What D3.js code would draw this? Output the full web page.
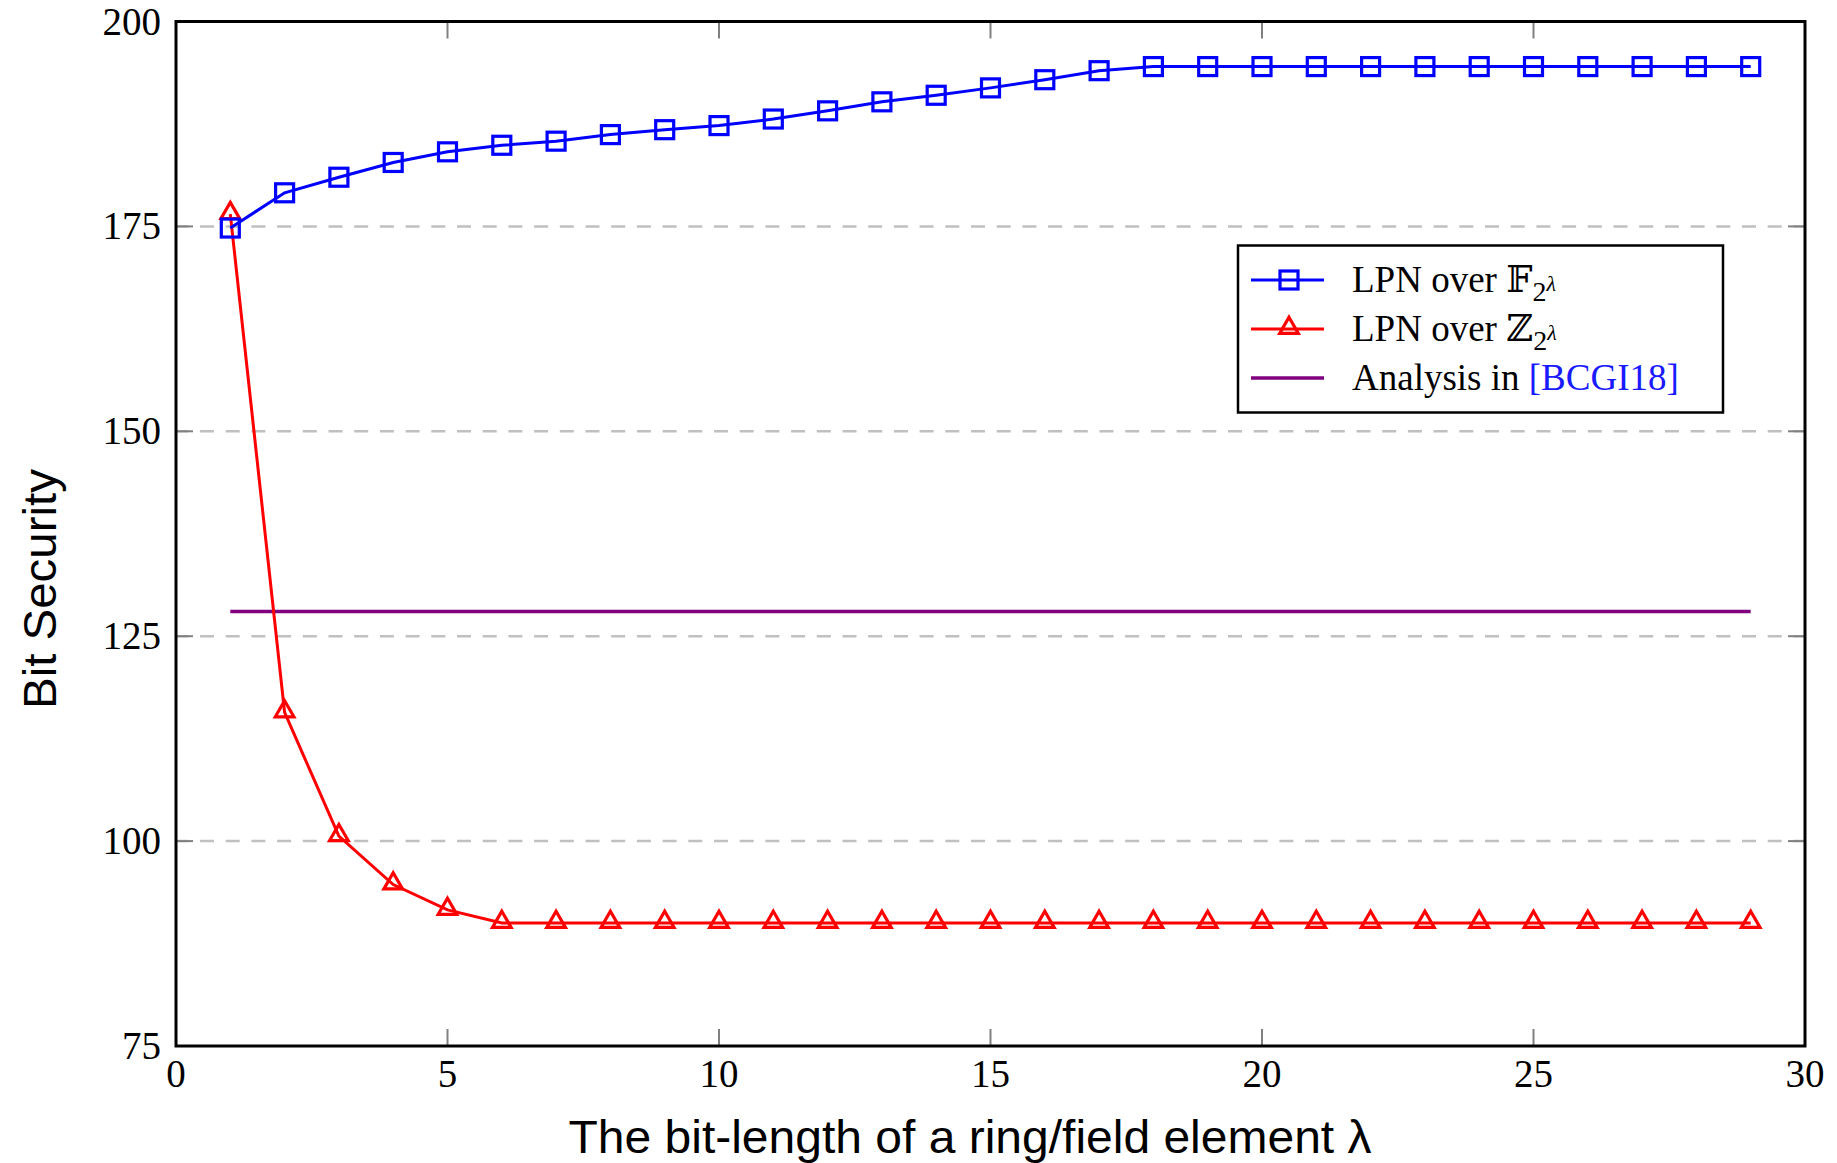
<!DOCTYPE html>
<html>
<head>
<meta charset="utf-8">
<script src="https://cdn.jsdelivr.net/npm/d3@7"></script>
<style>
  body { margin: 0; background: #fff; }
  svg { display: block; }
</style>
</head>
<body>
<svg></svg>
<script>
// values
var lambdaVals = [1, 2, 3, 4, 5, 6, 7, 8, 9, 10, 11, 12, 13, 14, 15, 16, 17, 18, 19, 20, 21, 22, 23, 24, 25, 26, 27, 28, 29];
var lpnField = [174.8, 179.1, 181.0, 182.8, 184.1, 184.9, 185.4, 186.2, 186.8, 187.3, 188.1, 189.1, 190.2, 191.0, 191.9, 192.9, 194.0,
                194.5, 194.5, 194.5, 194.5, 194.5, 194.5, 194.5, 194.5, 194.5, 194.5, 194.5, 194.5];
var lpnRing = [176.5, 115.7, 100.6, 94.7, 91.6, 90, 90, 90, 90, 90, 90, 90, 90, 90, 90, 90, 90,
               90, 90, 90, 90, 90, 90, 90, 90, 90, 90, 90, 90];
var bcgiX = [1, 29];
var bcgiY = [128, 128];

var xTicks = [0, 5, 10, 15, 20, 25, 30];
var yTicks = [75, 100, 125, 150, 175, 200];
var yGrid = [100, 125, 150, 175];

var width = 1837, height = 1163;
var margin = { left: 176, right: 32, top: 21.5, bottom: 117 };
var serif = "'Liberation Serif', 'DejaVu Serif', serif";
var sans = "'Liberation Sans', Arial, sans-serif";

var svg = d3.select("svg")
            .attr("width", width)
            .attr("height", height);

var xscale = d3.scaleLinear()
               .domain([0, 30])
               .range([margin.left, width - margin.right]);

var yscale = d3.scaleLinear()
               .domain([75, 200])
               .range([height - margin.bottom, margin.top]);

var x0 = xscale(0), x1 = xscale(30), y0 = yscale(75), y1 = yscale(200);

// dashed grid
svg.append("g")
   .selectAll("line")
   .data(yGrid)
   .enter()
   .append("line")
   .attr("x1", x0).attr("x2", x1)
   .attr("y1", function(d) { return yscale(d); })
   .attr("y2", function(d) { return yscale(d); })
   .attr("stroke", "#c0c0c0")
   .attr("stroke-width", 2.5)
   .attr("stroke-dasharray", "14,11.7")
   .attr("stroke-dashoffset", -24);

// inner tick marks
var tickLen = 17;
var ticks = svg.append("g").attr("stroke", "#808080").attr("stroke-width", 2);
yTicks.forEach(function(v) {
  ticks.append("line").attr("x1", x0).attr("x2", x0 + tickLen).attr("y1", yscale(v)).attr("y2", yscale(v));
  ticks.append("line").attr("x1", x1).attr("x2", x1 - tickLen).attr("y1", yscale(v)).attr("y2", yscale(v));
});
xTicks.forEach(function(v) {
  ticks.append("line").attr("x1", xscale(v)).attr("x2", xscale(v)).attr("y1", y0).attr("y2", y0 - tickLen);
  ticks.append("line").attr("x1", xscale(v)).attr("x2", xscale(v)).attr("y1", y1).attr("y2", y1 + tickLen);
});

// tick labels
svg.append("g")
   .attr("font-family", serif)
   .attr("font-size", 39)
   .attr("text-anchor", "end")
   .selectAll("text")
   .data(yTicks)
   .enter()
   .append("text")
   .attr("x", x0 - 15)
   .attr("y", function(d) { return yscale(d) + 13; })
   .text(function(d) { return d; });

svg.append("g")
   .attr("font-family", serif)
   .attr("font-size", 39)
   .attr("text-anchor", "middle")
   .selectAll("text")
   .data(xTicks)
   .enter()
   .append("text")
   .attr("x", function(d) { return xscale(d); })
   .attr("y", y0 + 41)
   .text(function(d) { return d; });

// series
var line = d3.line()
             .x(function(d) { return xscale(d[0]); })
             .y(function(d) { return yscale(d[1]); });

svg.append("path")
   .datum(d3.zip(bcgiX, bcgiY))
   .attr("d", line)
   .attr("fill", "none")
   .attr("stroke", "#800080")
   .attr("stroke-width", 3.5);

svg.append("path")
   .datum(d3.zip(lambdaVals, lpnRing))
   .attr("d", line)
   .attr("fill", "none")
   .attr("stroke", "#ff0000")
   .attr("stroke-width", 3);

svg.append("g")
   .selectAll("path")
   .data(d3.zip(lambdaVals, lpnRing))
   .enter()
   .append("path")
   .attr("transform", function(d) { return "translate(" + xscale(d[0]) + "," + (yscale(d[1]) - 1) + ")"; })
   .attr("d", d3.symbol(d3.symbolTriangle, 150))
   .attr("fill", "none")
   .attr("stroke", "#ff0000")
   .attr("stroke-width", 3.2);

svg.append("path")
   .datum(d3.zip(lambdaVals, lpnField))
   .attr("d", line)
   .attr("fill", "none")
   .attr("stroke", "#0000ff")
   .attr("stroke-width", 3);

svg.append("g")
   .selectAll("rect")
   .data(d3.zip(lambdaVals, lpnField))
   .enter()
   .append("rect")
   .attr("x", function(d) { return xscale(d[0]) - 9; })
   .attr("y", function(d) { return yscale(d[1]) - 9; })
   .attr("width", 18)
   .attr("height", 18)
   .attr("fill", "none")
   .attr("stroke", "#0000ff")
   .attr("stroke-width", 3.2);

// frame
svg.append("rect")
   .attr("x", x0).attr("y", y1)
   .attr("width", x1 - x0).attr("height", y0 - y1)
   .attr("fill", "none")
   .attr("stroke", "#000")
   .attr("stroke-width", 3);

// axis titles
svg.append("text")
   .attr("x", 970)
   .attr("y", 1153)
   .attr("text-anchor", "middle")
   .attr("font-family", sans)
   .attr("font-size", 47)
   .attr("textLength", 803)
   .attr("lengthAdjust", "spacingAndGlyphs")
   .text("The bit-length of a ring/field element λ");

svg.append("text")
   .attr("transform", "translate(56,589) rotate(-90)")
   .attr("text-anchor", "middle")
   .attr("font-family", sans)
   .attr("font-size", 47)
   .attr("textLength", 240)
   .attr("lengthAdjust", "spacingAndGlyphs")
   .text("Bit Security");

// legend
var leg = svg.append("g");
leg.append("rect")
   .attr("x", 1238).attr("y", 245.5)
   .attr("width", 485).attr("height", 167)
   .attr("fill", "#fff")
   .attr("stroke", "#000")
   .attr("stroke-width", 2.5);

var legRows = [
  { y: 280, color: "#0000ff", mark: "square", base: "LPN over \u{1D53D}" },
  { y: 329, color: "#ff0000", mark: "triangle", base: "LPN over \u2124" },
  { y: 378, color: "#800080", mark: "none", base: "Analysis in " }
];

legRows.forEach(function(r) {
  leg.append("line")
     .attr("x1", 1251).attr("x2", 1324)
     .attr("y1", r.y).attr("y2", r.y)
     .attr("stroke", r.color)
     .attr("stroke-width", r.mark === "none" ? 3.5 : 3);
  if (r.mark === "square") {
    leg.append("rect")
       .attr("x", 1289 - 9).attr("y", r.y - 9)
       .attr("width", 18).attr("height", 18)
       .attr("fill", "none").attr("stroke", r.color).attr("stroke-width", 3.2);
  } else if (r.mark === "triangle") {
    leg.append("path")
       .attr("transform", "translate(1289," + (r.y - 1) + ")")
       .attr("d", d3.symbol(d3.symbolTriangle, 150))
       .attr("fill", "none").attr("stroke", r.color).attr("stroke-width", 3.2);
  }
  var t = leg.append("text")
             .attr("x", 1352)
             .attr("y", r.y + 12)
             .attr("font-family", serif)
             .attr("font-size", 37)
             .text(r.base);
  if (r.mark === "none") {
    t.append("tspan").attr("fill", "#1a1aff").text("[BCGI18]");
  } else {
    t.append("tspan").attr("font-size", 28).attr("dy", 9).text("2");
    t.append("tspan").attr("font-size", 22).attr("font-style", "italic").attr("dy", -10).text("λ");
  }
});
</script>
</body>
</html>
